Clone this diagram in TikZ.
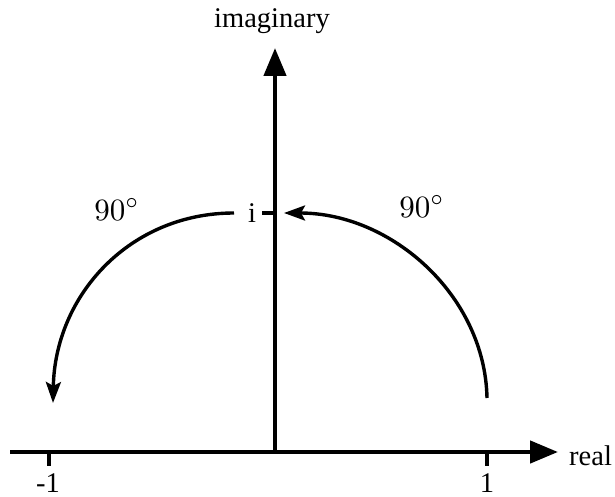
\documentclass[tikz,border=0pt]{standalone}
\usepackage{fontspec}
\setmainfont{Liberation Serif}
\usetikzlibrary{arrows.meta}
\newcommand{\degtext}{\scalebox{3.1}{\normalsize$90^\circ$}}
\tikzset{
  axis/.style={line width=4.5pt,-{Triangle[length=28pt,width=22pt]}},
  tickmark/.style={line width=3.5pt},
  rot/.style={line width=3.4pt,-{Stealth[length=21pt,width=15pt,inset=4pt]}},
  lbl/.style={inner sep=0pt,font=\fontsize{28.5}{34}\selectfont},
  deg/.style={inner sep=0pt}
}
\begin{document}
\begin{tikzpicture}[x=1pt,y=-1pt]
\useasboundingbox (0,0) rectangle (615,497);
% axes
\coordinate (xstart) at (10,452);
\coordinate (xend) at (558,452);
\coordinate (origin) at (275,452);
\coordinate (yend) at (275,48);
\draw[axis] (xstart) -- (xend);
\draw[axis] (origin) -- (yend);
% ticks
\coordinate (tm1) at (49,452);
\coordinate (tm1b) at (49,466);
\coordinate (tp1) at (487,452);
\coordinate (tp1b) at (487,466);
\coordinate (ti) at (275,213);
\coordinate (tib) at (262,213);
\draw[tickmark] (tm1) -- (tm1b);
\draw[tickmark] (tp1) -- (tp1b);
\draw[tickmark] (ti) -- (tib);
% labels
\node[lbl,anchor=base] (imag) at (272,28) {imaginary};
\node[lbl,anchor=base west] (real) at (569,465) {real};
\node[lbl,anchor=base] (lm1) at (48,492) {-1};
\node[lbl,anchor=base] (lp1) at (487,492) {1};
\node[lbl,anchor=base] (li) at (252,222) {i};
\node[deg,anchor=base] (dl) at (117,220) {\degtext};
\node[deg,anchor=base] (dr) at (422,217) {\degtext};
% rotation arcs
\coordinate (ra) at (487,398);
\coordinate (rb) at (284,213);
\coordinate (la) at (234,213);
\coordinate (lb) at (53,403);
\draw[rot] (ra) .. controls (485,296) and (392,213) .. (rb);
\draw[rot] (la) .. controls (130,213) and (55,295) .. (lb);
\end{tikzpicture}
\end{document}
